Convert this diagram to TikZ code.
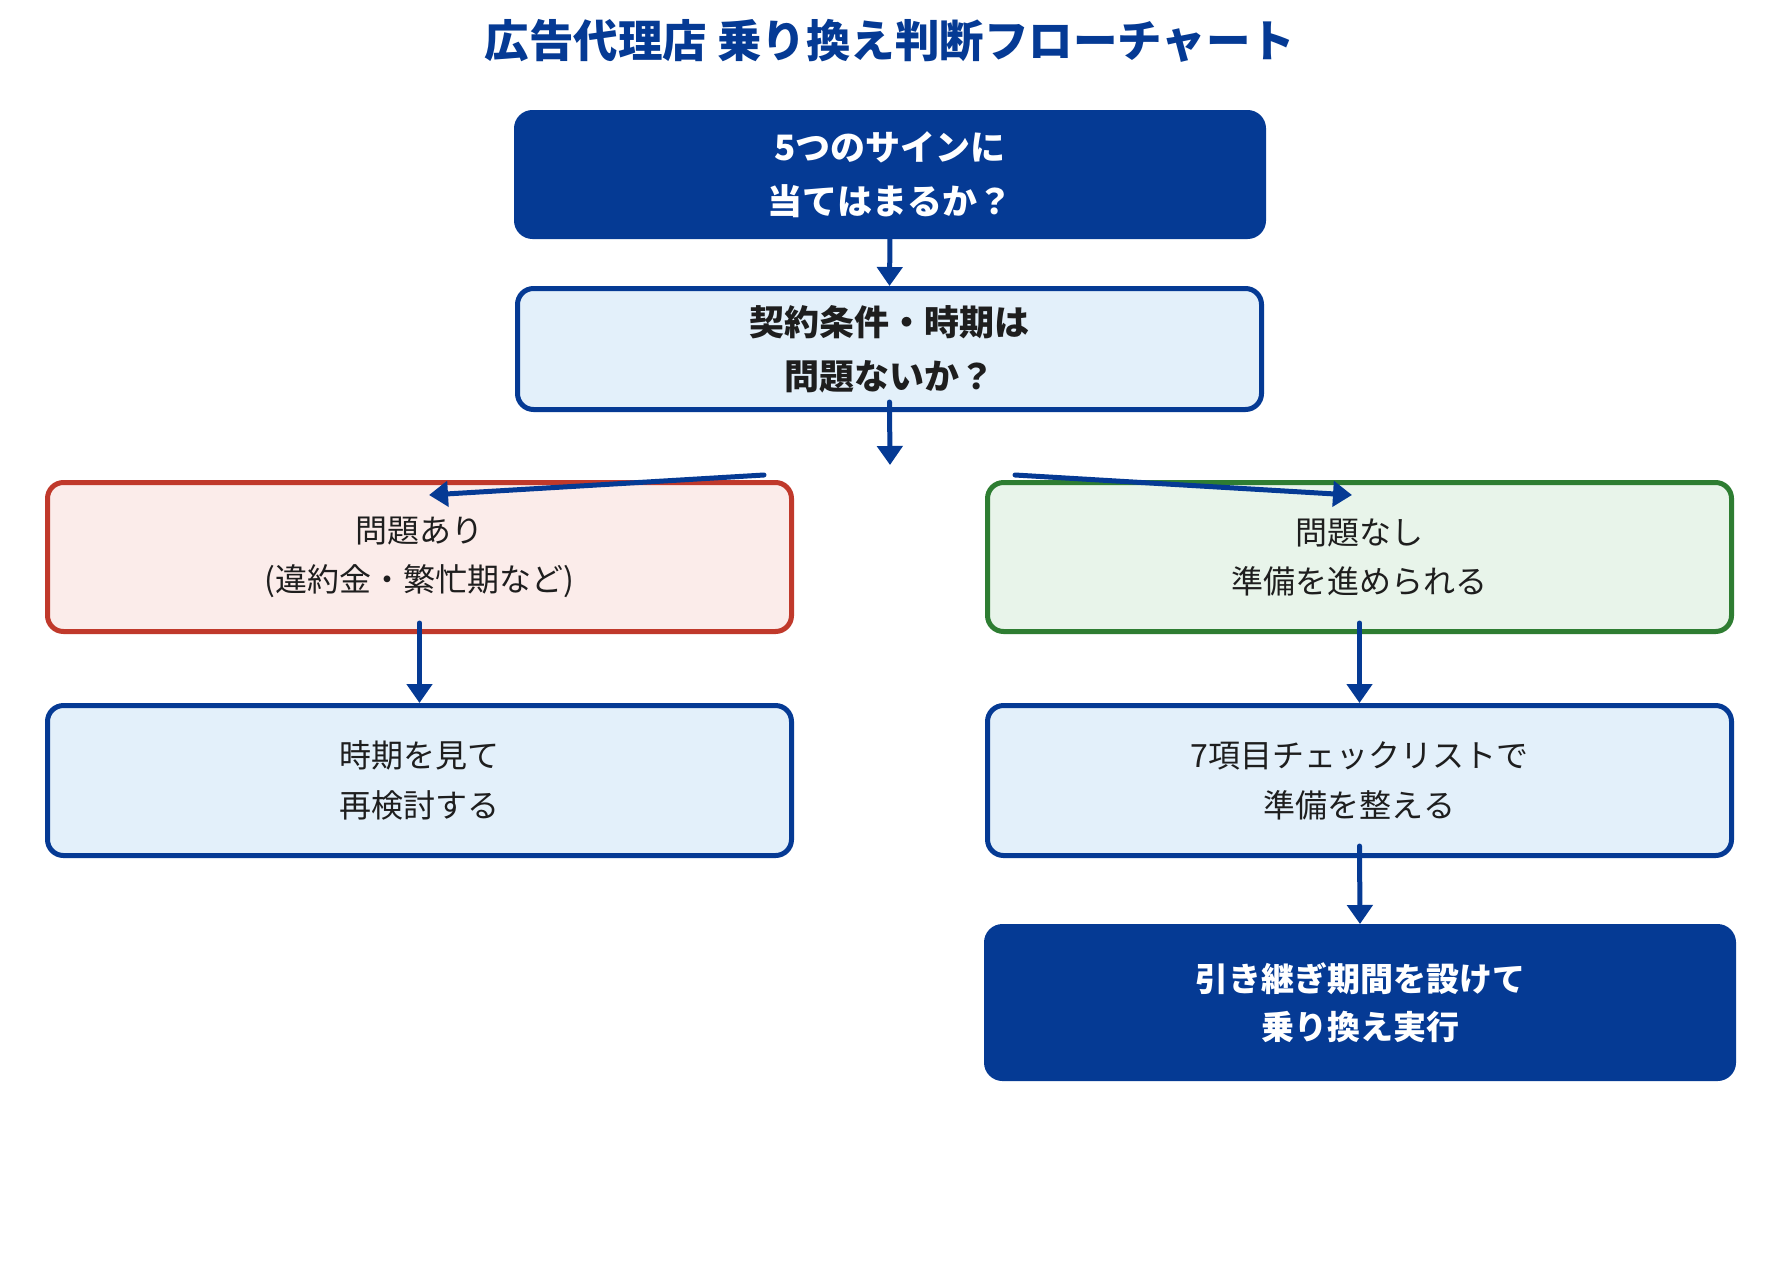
\documentclass[tikz,border=0pt]{standalone}
\usepackage{fontspec}
\setmainfont{Noto Sans CJK JP}
\usetikzlibrary{arrows.meta}
\definecolor{navy}{RGB}{5,58,148}
\definecolor{lightblue}{RGB}{227,240,250}
\definecolor{redline}{RGB}{192,57,43}
\definecolor{redfill}{RGB}{251,236,234}
\definecolor{greenline}{RGB}{46,125,50}
\definecolor{greenfill}{RGB}{232,244,234}
\definecolor{ink}{RGB}{30,30,30}
\begin{document}
\begin{tikzpicture}[x=1pt,y=-1pt,
  basebox/.style={rounded corners=16pt, line width=5pt, align=center, inner sep=0pt,
    minimum width=744pt, anchor=center},
  darkbox/.style={basebox, fill=navy, draw=navy, text=white,
    font=\fontsize{35}{54}\selectfont\bfseries},
  qbox/.style={basebox, fill=lightblue, draw=navy, text=ink,
    font=\fontsize{35}{54}\selectfont\bfseries},
  stepbox/.style={basebox, fill=lightblue, draw=navy, text=ink,
    font=\fontsize{32}{50}\selectfont},
  ngbox/.style={basebox, fill=redfill, draw=redline, text=ink,
    font=\fontsize{32}{49}\selectfont},
  okbox/.style={basebox, fill=greenfill, draw=greenline, text=ink,
    font=\fontsize{32}{49}\selectfont},
  arr/.style={draw=navy, line width=5pt, line cap=round,
    -{Triangle[length=19pt,width=25pt]}}
]
\useasboundingbox (0,0) rectangle (1779,1280);
\fill[white] (0,0) rectangle (1779,1280);

\node[text=navy, font=\fontsize{44.5}{50}\selectfont\bfseries] (title) at (890,41)
  {広告代理店 乗り換え判断フローチャート};

\node[darkbox, minimum width=747pt, minimum height=124pt] (b1) at (890,174.5)
  {5つのサインに\\当てはまるか？};
\node[qbox, minimum height=121pt] (b2) at (889.5,349)
  {契約条件・時期は\\問題ないか？};
\node[ngbox, minimum height=149pt] (ng) at (419.5,557)
  {問題あり\\(違約金・繁忙期など)};
\node[okbox, minimum height=149pt] (ok) at (1359.5,557)
  {問題なし\\準備を進められる};
\node[stepbox, minimum height=150pt] (wait) at (419.5,780.5)
  {時期を見て\\再検討する};
\node[stepbox, minimum height=150pt] (check) at (1359.5,780.5)
  {7項目チェックリストで\\準備を整える};
\node[darkbox, minimum width=747pt, minimum height=152pt,
  font=\fontsize{33}{48}\selectfont\bfseries] (go) at (1360,1002.5)
  {引き継ぎ期間を設けて\\乗り換え実行};

\coordinate (b1out) at ([yshift=2pt]b1.south);
\coordinate (b2out) at ([yshift=10pt]b2.south);
\coordinate (split) at (890,465);
\coordinate (ls) at (764,475);
\coordinate (le) at (429,495);
\coordinate (rs) at (1015,475);
\coordinate (re) at (1352,495);
\coordinate (ngout) at ([yshift=11pt]ng.south);
\coordinate (okout) at ([yshift=11pt]ok.south);
\coordinate (checkout) at ([yshift=12pt]check.south);

\draw[arr] (b1out) -- (b2.north);
\draw[arr] (b2out) -- (split);
\draw[arr] (ls) -- (le);
\draw[arr] (rs) -- (re);
\draw[arr] (ngout) -- (wait.north);
\draw[arr] (okout) -- (check.north);
\draw[arr] (checkout) -- (go.north);
\end{tikzpicture}
\end{document}
